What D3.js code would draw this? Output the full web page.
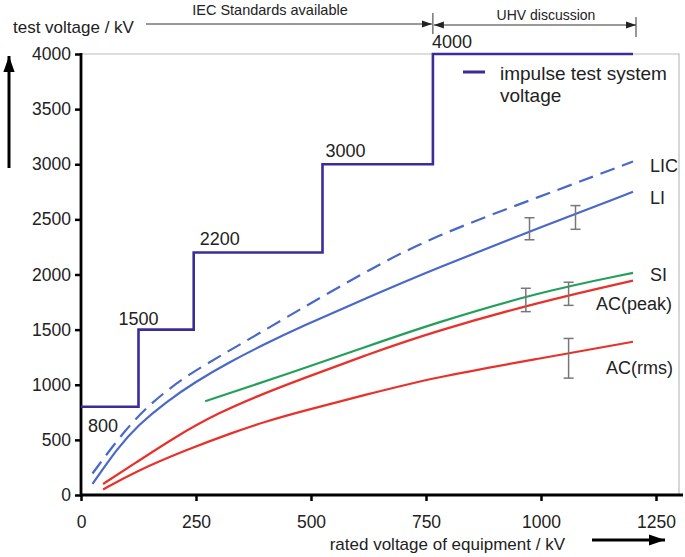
<!DOCTYPE html>
<html>
<head>
<meta charset="utf-8">
<script src="https://cdn.jsdelivr.net/npm/d3@7"></script>
<style>
  body { margin: 0; background: #fff; }
  text { font-family: "Liberation Sans", Arial, sans-serif; fill: #222; }
</style>
</head>
<body>
<script>
// impulse test system steps: [rated kV, test kV]
var stepPoints = [[0, 800], [125, 1500], [245, 2200], [525, 3000], [765, 4000], [1200, 4000]];
var stepLabels = ['800', '1500', '2200', '3000', '4000'];

// withstand curves [rated kV, test kV]
var lic = [[25, 195], [95, 590], [155, 845], [225, 1070], [300, 1255], [360, 1400], [475, 1680], [620, 2030], [765, 2345], [1000, 2710], [1200, 3025]];
var li = [[25, 100], [80, 430], [125, 637], [185, 845], [250, 1030], [320, 1200], [400, 1370], [475, 1520], [620, 1785], [765, 2045], [1000, 2430], [1200, 2750]];
var si = [[270, 850], [475, 1135], [620, 1345], [765, 1555], [1000, 1845], [1200, 2015]];
var acPeak = [[48, 100], [117, 287], [204, 525], [298, 745], [400, 925], [475, 1045], [620, 1270], [765, 1480], [1000, 1755], [1200, 1945]];
var acRms = [[48, 50], [117, 210], [226, 405], [335, 574], [400, 665], [475, 755], [620, 910], [765, 1065], [1000, 1240], [1200, 1390]];

// error bars [rated kV, low, high]
var errBars = [[975, 2315, 2515], [1075, 2410, 2625], [967, 1663, 1875], [1060, 1720, 1930], [1060, 1060, 1420]];

var xTicks = [0, 250, 500, 750, 1000, 1250];
var yTicks = [0, 500, 1000, 1500, 2000, 2500, 3000, 3500, 4000];

var width = 685, height = 557;

var x = d3.scaleLinear().domain([0, 1250]).range([81, 656]);
var y = d3.scaleLinear().domain([0, 4000]).range([495, 54]);

var svg = d3.select('body').append('svg')
    .attr('width', width)
    .attr('height', height);

var defs = svg.append('defs');
defs.append('marker')
    .attr('id', 'head')
    .attr('viewBox', '0 0 10 10')
    .attr('refX', 10).attr('refY', 5)
    .attr('markerWidth', 10).attr('markerHeight', 10)
    .attr('markerUnits', 'userSpaceOnUse')
    .attr('orient', 'auto-start-reverse')
    .append('path').attr('d', 'M0,1.5L10,5L0,8.5Z').attr('fill', '#222');
defs.append('marker')
    .attr('id', 'bighead')
    .attr('viewBox', '0 0 10 10')
    .attr('refX', 10).attr('refY', 5)
    .attr('markerWidth', 16).attr('markerHeight', 16)
    .attr('markerUnits', 'userSpaceOnUse')
    .attr('orient', 'auto')
    .append('path').attr('d', 'M0,1.5L10,5L0,8.5Z').attr('fill', '#000');

// light frame
svg.append('path')
    .attr('d', 'M' + x(0) + ',' + y(4000) + 'H679V' + y(0))
    .attr('fill', 'none').attr('stroke', '#bbb').attr('stroke-width', 1.2);

// axes
var xAxis = d3.axisBottom(x).tickValues(xTicks).tickFormat(d3.format('d'))
    .tickSize(6).tickPadding(15).tickSizeOuter(0);
var yAxis = d3.axisLeft(y).tickValues(yTicks).tickFormat(d3.format('d'))
    .tickSize(6).tickPadding(4).tickSizeOuter(0);

var gx = svg.append('g').attr('transform', 'translate(0,' + y(0) + ')').call(xAxis);
var gy = svg.append('g').attr('transform', 'translate(' + x(0) + ',0)').call(yAxis);
[gx, gy].forEach(function(g) {
    g.select('.domain').remove();
    g.selectAll('.tick line').attr('stroke', '#000').attr('stroke-width', 2.5);
    g.selectAll('.tick text').attr('fill', '#333')
        .style('font-family', '"Liberation Sans", Arial, sans-serif')
        .style('font-size', '17.5px');
});
svg.append('line')
    .attr('x1', x(0)).attr('x2', 683).attr('y1', y(0)).attr('y2', y(0))
    .attr('stroke', '#000').attr('stroke-width', 2.8);
svg.append('line')
    .attr('x1', x(0)).attr('x2', x(0)).attr('y1', y(4000) - 1).attr('y2', y(0) + 1.4)
    .attr('stroke', '#000').attr('stroke-width', 2.8);

// axis titles and arrows
svg.append('text').attr('x', 13).attr('y', 33).style('font-size', '17px').text('test voltage / kV');
svg.append('line').attr('x1', 9).attr('x2', 9).attr('y1', 168).attr('y2', 56)
    .attr('stroke', '#000').attr('stroke-width', 3).attr('marker-end', 'url(#bighead)');
svg.append('text').attr('x', 565).attr('y', 550).attr('text-anchor', 'end')
    .style('font-size', '17px').text('rated voltage of equipment  / kV');
svg.append('line').attr('x1', 592).attr('x2', 665).attr('y1', 540).attr('y2', 540)
    .attr('stroke', '#000').attr('stroke-width', 3).attr('marker-end', 'url(#bighead)');

// standards annotation
svg.append('line').attr('x1', 146).attr('x2', x(765) - 1).attr('y1', 24).attr('y2', 24)
    .attr('stroke', '#333').attr('stroke-width', 1).attr('marker-end', 'url(#head)');
svg.append('line').attr('x1', x(765) + 1).attr('x2', x(1200) + 3).attr('y1', 25).attr('y2', 25)
    .attr('stroke', '#333').attr('stroke-width', 1)
    .attr('marker-start', 'url(#head)').attr('marker-end', 'url(#head)');
svg.append('line').attr('x1', x(765)).attr('x2', x(765)).attr('y1', 13).attr('y2', 34)
    .attr('stroke', '#333').attr('stroke-width', 1);
svg.append('line').attr('x1', x(1200) + 3).attr('x2', x(1200) + 3).attr('y1', 17).attr('y2', 37)
    .attr('stroke', '#333').attr('stroke-width', 1);
svg.append('text').attr('x', 270).attr('y', 15).attr('text-anchor', 'middle')
    .style('font-size', '14.5px').text('IEC Standards available');
svg.append('text').attr('x', 546).attr('y', 20).attr('text-anchor', 'middle')
    .style('font-size', '14px').text('UHV discussion');

var line = d3.line()
    .x(function(d) { return x(d[0]); })
    .y(function(d) { return y(d[1]); })
    .curve(d3.curveBasis);

var series = [
    { data: lic, color: '#4a68c8', dash: '15,8', name: 'LIC', dx: 17, dy: 11 },
    { data: li, color: '#4a68c8', dash: null, name: 'LI', dx: 17, dy: 12 },
    { data: si, color: '#22a05a', dash: null, name: 'SI', dx: 17, dy: 8 },
    { data: acPeak, color: '#e8312b', dash: null, name: 'AC(peak)', dx: -37, dy: 29 },
    { data: acRms, color: '#e8312b', dash: null, name: 'AC(rms)', dx: -27, dy: 32 }
];

series.forEach(function(s) {
    svg.append('path')
        .datum(s.data)
        .attr('d', line)
        .attr('fill', 'none')
        .attr('stroke', s.color)
        .attr('stroke-width', 2.2)
        .attr('stroke-dasharray', s.dash);
    var last = s.data[s.data.length - 1];
    svg.append('text')
        .attr('x', x(last[0]) + s.dx)
        .attr('y', y(last[1]) + s.dy)
        .style('font-size', '18px')
        .text(s.name);
});

// error bars
var eb = svg.append('g').attr('stroke', '#777').attr('stroke-width', 1.5);
errBars.forEach(function(d) {
    eb.append('line').attr('x1', x(d[0])).attr('x2', x(d[0])).attr('y1', y(d[1])).attr('y2', y(d[2]));
    eb.append('line').attr('x1', x(d[0]) - 5).attr('x2', x(d[0]) + 5).attr('y1', y(d[1])).attr('y2', y(d[1]));
    eb.append('line').attr('x1', x(d[0]) - 5).attr('x2', x(d[0]) + 5).attr('y1', y(d[2])).attr('y2', y(d[2]));
});

// impulse test system step line
var stepLine = d3.line()
    .x(function(d) { return x(d[0]); })
    .y(function(d) { return y(d[1]); })
    .curve(d3.curveStepAfter);
svg.append('path')
    .datum(stepPoints)
    .attr('d', stepLine)
    .attr('fill', 'none')
    .attr('stroke', '#3b2c98')
    .attr('stroke-width', 2.6);

// step value labels
var labelOffsets = [[7, 25, 'start'], [0, -5, 'middle'], [6, -7, 'start'], [3, -7, 'start'], [-1, -6, 'start']];
stepLabels.forEach(function(t, i) {
    var p = stepPoints[i];
    svg.append('text')
        .attr('x', x(p[0]) + labelOffsets[i][0])
        .attr('y', y(p[1]) + labelOffsets[i][1])
        .attr('text-anchor', labelOffsets[i][2])
        .style('font-size', '18px')
        .text(t);
});

// legend
svg.append('line').attr('x1', 463).attr('x2', 485).attr('y1', 72).attr('y2', 72)
    .attr('stroke', '#3b2c98').attr('stroke-width', 3);
svg.append('text').attr('x', 500).attr('y', 80).style('font-size', '19px').text('impulse test system');
svg.append('text').attr('x', 500).attr('y', 102).style('font-size', '19px').text('voltage');
</script>
</body>
</html>
